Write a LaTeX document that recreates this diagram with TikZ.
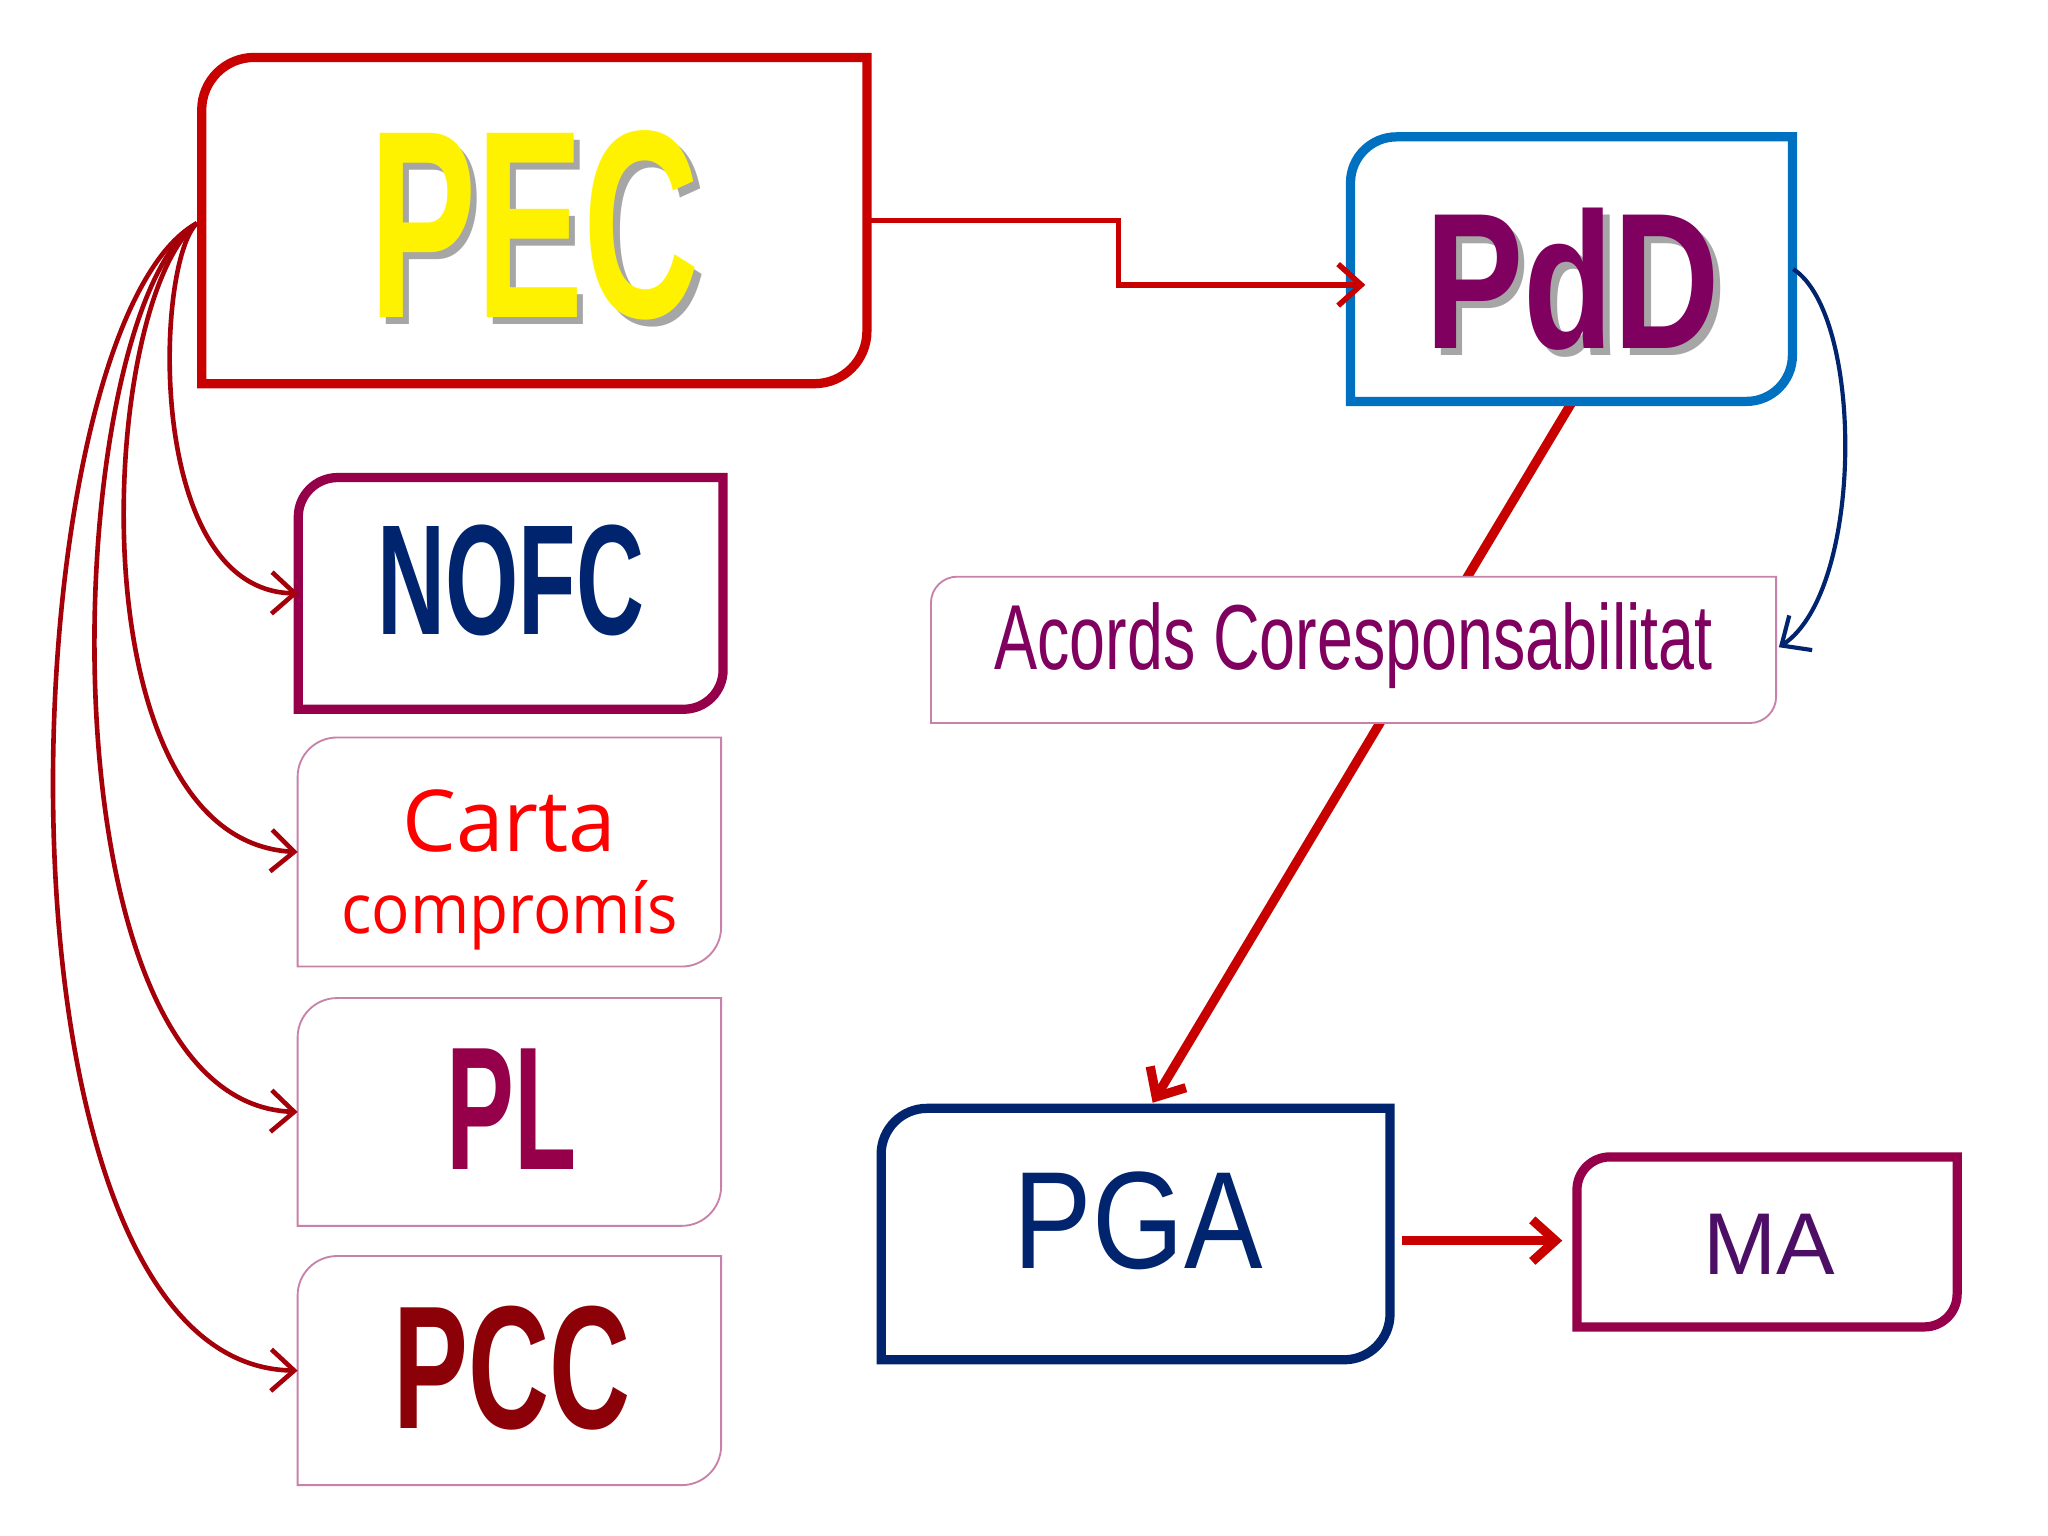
\documentclass[tikz,border=0pt]{standalone}
\usepackage{fontspec}
\setmainfont{Liberation Sans}
\newfontfamily\opensans{Open Sans}
\usetikzlibrary{arrows.meta}
\definecolor{cred}{RGB}{200,0,0}
\definecolor{dred}{RGB}{165,0,10}
\definecolor{cblue}{RGB}{0,112,192}
\definecolor{navy}{RGB}{0,36,110}
\definecolor{mauve}{RGB}{150,0,75}
\definecolor{purp}{RGB}{128,0,96}
\definecolor{pinkline}{RGB}{200,130,170}
\newcommand\tlbr[3]{\draw[#3] (#1.west) [rounded corners=#2] -- (#1.north west) -- (#1.north) [sharp corners] -- (#1.north east) -- (#1.east) [rounded corners=#2] -- (#1.south east) -- (#1.south) [sharp corners] -- (#1.south west) -- cycle;}
\tikzset{
 boxn/.style={inner sep=0pt,draw=none},
 arr/.style={-{Straight Barb[length=5pt,width=9pt]}},
}
\begin{document}
\begin{tikzpicture}[x=0.01cm,y=-0.01cm]
\useasboundingbox[fill=white] (0,0) rectangle (1560,1170);
% nodes
\node[boxn,minimum width=5.05cm,minimum height=2.47cm] (pec) at (407,168) {};
\node[boxn,minimum width=3.35cm,minimum height=2.0cm] (pdd) at (1197,205) {};
\node[boxn,minimum width=6.42cm,minimum height=1.1cm] (ac) at (1031,495) {};
\node[boxn,minimum width=3.22cm,minimum height=1.75cm] (nofc) at (389,452) {};
\node[boxn,minimum width=3.21cm,minimum height=1.73cm] (carta) at (388,649) {};
\node[boxn,minimum width=3.21cm,minimum height=1.72cm] (pl) at (388,847) {};
\node[boxn,minimum width=3.21cm,minimum height=1.73cm] (pcc) at (388,1044) {};
\node[boxn,minimum width=3.86cm,minimum height=1.9cm] (pga) at (865,940) {};
\node[boxn,minimum width=2.88cm,minimum height=1.28cm] (ma) at (1346,946) {};
% PdD -> PGA line (behind acords)
\coordinate (pddb) at (1197,307);
\coordinate (pgat) at (878,840);
\draw[cred,line width=2pt,arr] (pddb) -- (pgat);
% boxes
\tlbr{pec}{0.4cm}{cred,line width=2pt}
\tlbr{pdd}{0.35cm}{cblue,line width=2pt}
\tlbr{ac}{0.2cm}{pinkline,line width=0.4pt,fill=white}
\tlbr{nofc}{0.3cm}{mauve,line width=2pt}
\tlbr{carta}{0.3cm}{pinkline,line width=0.4pt}
\tlbr{pl}{0.3cm}{pinkline,line width=0.4pt}
\tlbr{pcc}{0.3cm}{pinkline,line width=0.4pt}
\tlbr{pga}{0.35cm}{navy,line width=2pt}
\tlbr{ma}{0.25cm}{mauve,line width=2pt}
% texts
\node[gray!70,xscale=0.6] at (412,177) {\fontsize{58}{58}\bfseries PEC};
\node[yellow,xscale=0.6] at (407,172) {\fontsize{58}{58}\bfseries PEC};
\node[gray!70,xscale=0.76] at (1203,218) {\fontsize{42}{42}\bfseries PdD};
\node[purp,xscale=0.76] at (1198,213) {\fontsize{42}{42}\bfseries PdD};
\node[navy,xscale=0.6] at (389,442) {\fontsize{34}{34}\bfseries NOFC};
\node[red] at (388,625) {\opensans\fontsize{18.5}{18.5}\selectfont Carta};
\node[red,xscale=0.92] at (388,697) {\opensans\fontsize{15}{15}\selectfont compromís};
\node[mauve,xscale=0.58] at (390,845) {\fontsize{38}{38}\bfseries PL};
\node[dred!85!black,xscale=0.64] at (390,1042) {\fontsize{38}{38}\bfseries PCC};
\node[purp,xscale=0.7] at (1031,492) {\fontsize{20}{20}\selectfont Acords Coresponsabilitat};
\node[navy,xscale=0.85] at (867,930) {\fontsize{30}{30}\selectfont PGA};
\node[purp!60!navy] at (1348,948) {\fontsize{19}{19}\selectfont MA};
% connectors
\coordinate (pecr) at (662,168);
\coordinate (pddl) at (1040,217);
\draw[cred,line width=1.2pt,arr] (pecr) -- (852,168) -- (852,217) -- (pddl);
\coordinate (pddr) at (1366,205);
\coordinate (acr) at (1355,493);
\draw[navy,line width=0.9pt,arr] (pddr) .. controls (1420,240) and (1420,450) .. (acr);
\coordinate (pgar) at (1068,945);
\coordinate (mal) at (1190,945);
\draw[cred,line width=2pt,arr] (pgar) -- (mal);
\coordinate (pecl) at (150,170);
\draw[dred,line width=1pt,arr] (pecl) .. controls (118,200) and (110,450) .. (nofc.west);
\draw[dred,line width=1pt,arr] (pecl) .. controls (75,230) and (55,640) .. (carta.west);
\draw[dred,line width=1pt,arr] (pecl) .. controls (45,240) and (25,840) .. (pl.west);
\draw[dred,line width=1pt,arr] (pecl) .. controls (5,250) and (-20,1040) .. (pcc.west);
\end{tikzpicture}
\end{document}
